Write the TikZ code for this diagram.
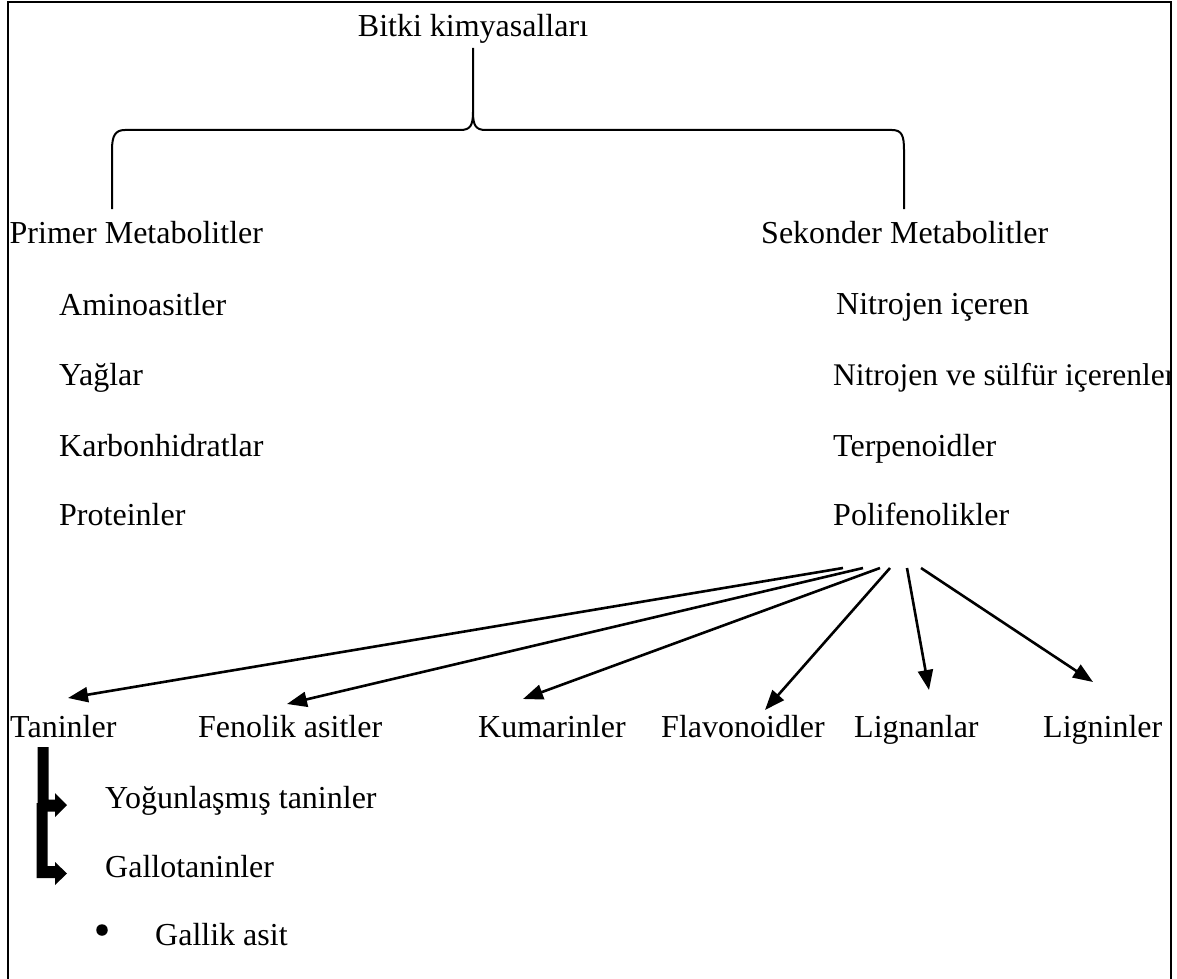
\documentclass[tikz,border=0pt]{standalone}
\usepackage{fontspec}
\setmainfont{Liberation Serif}
\usetikzlibrary{arrows.meta}
\begin{document}
\begin{tikzpicture}[x=1pt,y=-1pt,
  lbl/.style={anchor=base west, inner sep=0pt, font=\fontsize{32}{38}\selectfont},
  conn/.style={line width=2.6pt, -{Triangle[length=20pt,width=15pt]}},
  bracepath/.style={line width=2pt},
  bentfill/.style={fill=black, draw=none},
  framepath/.style={line width=2.5pt}]
\useasboundingbox (0,0) rectangle (1177,979);

% title and brace
\node[anchor=base, inner sep=0pt, font=\fontsize{32}{38}\selectfont] (root) at (473,37) {Bitki kimyasalları};
\coordinate (stemtop) at (473,48);
\coordinate (stemmid) at (473,112);
\coordinate (armL) at (112,209);
\coordinate (armR) at (904,209);
\draw[bracepath] (stemtop) -- (stemmid) .. controls (473,126) and (470,130) .. (460,130) -- (125,130)
  .. controls (115,130) and (112,136) .. (112,150) -- (armL);
\draw[bracepath] (stemmid) .. controls (473,126) and (476,130) .. (486,130) -- (892,130)
  .. controls (902,130) and (904,136) .. (904,150) -- (armR);

% level 1
\node[lbl] (pm) at (9.5,243) {Primer Metabolitler};
\node[lbl] (sm) at (761,243) {Sekonder Metabolitler};

% primary items
\node[lbl] (amino) at (59,315) {Aminoasitler};
\node[lbl] (yag) at (59,385) {Yağlar};
\node[lbl] (karb) at (59,456) {Karbonhidratlar};
\node[lbl] (prot) at (59,525) {Proteinler};

% secondary items
\node[lbl] (nit) at (836,314) {Nitrojen içeren};
\begin{scope}
\clip (0,0) rectangle (1170,979);
\node[lbl, font=\fontsize{31.5}{38}\selectfont] (nitsul) at (833,385) {Nitrojen ve sülfür içerenler};
\end{scope}
\node[lbl] (terp) at (833,456) {Terpenoidler};
\node[lbl] (poli) at (833,525) {Polifenolikler};

% polyphenol classes
\node[lbl] (tan) at (10,737) {Taninler};
\node[lbl] (fen) at (198,737) {Fenolik asitler};
\node[lbl] (kum) at (478,737) {Kumarinler};
\node[lbl] (flav) at (661,737) {Flavonoidler};
\node[lbl] (lignan) at (854,737) {Lignanlar};
\node[lbl] (lignin) at (1043,737) {Ligninler};

\coordinate (s1) at (843,568);
\coordinate (s2) at (863,568);
\coordinate (s3) at (880,568);
\coordinate (s4) at (890,568);
\coordinate (s5) at (907,568);
\coordinate (s6) at (921,568);
\coordinate (t1) at (68,698);
\coordinate (t2) at (287,704);
\coordinate (t3) at (523,699);
\coordinate (t4) at (765,710);
\coordinate (t5) at (929,690);
\coordinate (t6) at (1093,682);
\draw[conn] (s1) -- (t1);
\draw[conn] (s2) -- (t2);
\draw[conn] (s3) -- (t3);
\draw[conn] (s4) -- (t4);
\draw[conn] (s5) -- (t5);
\draw[conn] (s6) -- (t6);

% tannin subclasses
\node[lbl] (yog) at (105,808) {Yoğunlaşmış taninler};
\node[lbl] (gallo) at (105,877) {Gallotaninler};
\node[lbl] (gallik) at (155,945) {Gallik asit};
\node[circle, fill, inner sep=0pt, minimum size=11.5pt] (bul) at (102,930) {};

% thick bent arrows
\coordinate (b1top) at (37.5,747);
\coordinate (b1tip) at (67,805);
\coordinate (b2top) at (36.5,803);
\coordinate (b2tip) at (67,873.5);
\fill[bentfill] (b1top) -- (48.5,747) -- (48.5,799.5) -- (55,799.5) -- (55,793) -- (b1tip)
  -- (55,817) -- (55,811.5) -- (37.5,811.5) -- cycle;
\fill[bentfill] (b2top) -- (47.5,803) -- (47.5,866) -- (55,866) -- (55,862) -- (b2tip)
  -- (55,885) -- (55,878) -- (36.5,878) -- cycle;

% frame (no bottom edge)
\draw[framepath] (8,995) -- (8,2) -- (1171,2) -- (1171,995);
\end{tikzpicture}
\end{document}
